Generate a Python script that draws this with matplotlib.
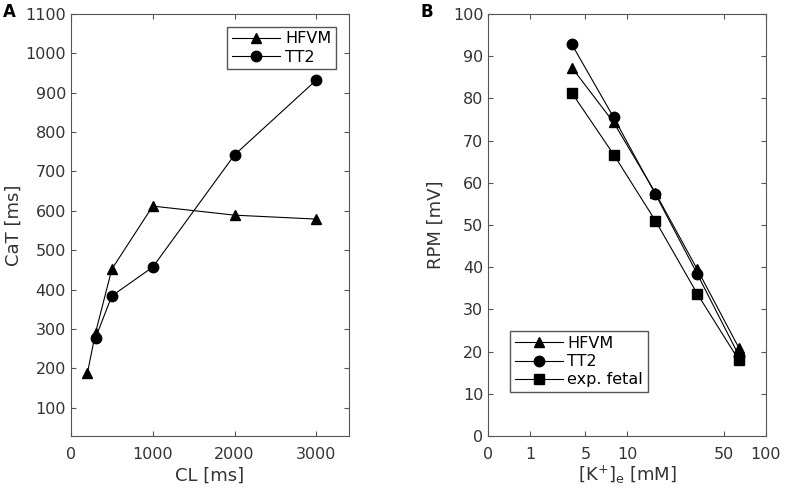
import matplotlib
matplotlib.use('Agg')
from matplotlib import pyplot as plt

plt.rcParams.update({'font.family': 'DejaVu Sans', 'font.size': 11})

# panel A: calcium transient duration vs cycle length
cl_hfvm = [200, 300, 500, 1000, 2000, 3000]
cat_hfvm = [187, 290, 452, 612, 589, 579]
cl_tt2 = [300, 500, 1000, 2000, 3000]
cat_tt2 = [277, 384, 457, 742, 932]

# panel B: resting potential vs extracellular K
k_e = [4, 8, 16, 32, 64]
rpm_hfvm = [87.3, 74.3, 57.6, 39.5, 20.8]
rpm_tt2 = [92.8, 75.5, 57.3, 38.4, 19.0]
rpm_fetal = [81.3, 66.7, 51.0, 33.7, 17.9]
k_ticks = [1, 2, 5, 10, 50, 100]
k_ticklabels = ['0', '1', '5', '10', '50', '100']

axis_color = '#555555'
text_color = '#333333'

fig = plt.figure(figsize=(7.86, 4.98), dpi=100)
ax1 = fig.add_axes([0.0903, 0.1245, 0.3537, 0.8474])
ax2 = fig.add_axes([0.6212, 0.1245, 0.3533, 0.8474])

line_kw = dict(color='black', linewidth=0.8, markersize=7.5)
leg_kw = dict(borderaxespad=0, fancybox=False, edgecolor=axis_color,
              framealpha=1, handlelength=3.0, labelspacing=0.2,
              handletextpad=0.3, borderpad=0.3, fontsize=11.5)

ax1.plot(cl_hfvm, cat_hfvm, marker='^', label='HFVM', **line_kw)
ax1.plot(cl_tt2, cat_tt2, marker='o', label='TT2', **line_kw)
ax1.set_xlim(0, 3400)
ax1.set_ylim(28, 1100)
ax1.set_xticks([0, 1000, 2000, 3000])
ax1.set_yticks(range(100, 1101, 100))
ax1.set_xlabel('CL [ms]', fontsize=13, color=text_color, labelpad=3)
ax1.set_ylabel('CaT [ms]', fontsize=13, color=text_color, labelpad=2)
ax1.legend(loc='upper right', bbox_to_anchor=(0.953, 0.970), **leg_kw)

ax2.plot(k_e, rpm_hfvm, marker='^', label='HFVM', **line_kw)
ax2.plot(k_e, rpm_tt2, marker='o', label='TT2', **line_kw)
ax2.plot(k_e, rpm_fetal, marker='s', label='exp. fetal', **line_kw)
ax2.set_xscale('log')
ax2.set_xlim(1, 100)
ax2.set_xticks(k_ticks)
ax2.set_xticklabels(k_ticklabels)
ax2.minorticks_off()
ax2.set_ylim(0, 100)
ax2.set_yticks(range(0, 101, 10))
ax2.set_xlabel('[K$^{+}$]$_{\\mathregular{e}}$ [mM]', fontsize=13, color=text_color, labelpad=1)
ax2.set_ylabel('RPM [mV]', fontsize=13, color=text_color, labelpad=6)
ax2.legend(loc='lower left', bbox_to_anchor=(0.078, 0.104), **leg_kw)

for ax in (ax1, ax2):
    ax.tick_params(direction='in', top=True, right=True, length=3.5,
                   color=axis_color, labelcolor=text_color, labelsize=11.5)
    ax.tick_params(axis='x', pad=8)
    for s in ax.spines.values():
        s.set_color(axis_color)
        s.set_linewidth(0.8)

fig.text(0.004, 0.965, 'A', fontsize=12, fontweight='bold')
fig.text(0.535, 0.965, 'B', fontsize=12, fontweight='bold')

fig.savefig('out.png', dpi=100)
